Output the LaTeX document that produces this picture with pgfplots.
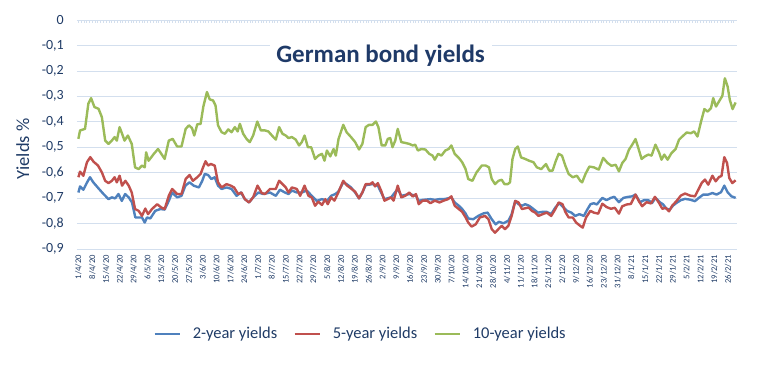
\documentclass[border=0pt]{standalone}
\usepackage{fontspec}
\setmainfont{Carlito}
\usepackage{pgfplots}
\pgfplotsset{compat=1.18}
\definecolor{cblue}{HTML}{4F81BD}
\definecolor{cred}{HTML}{C0504D}
\definecolor{cgreen}{HTML}{9BBB59}
\definecolor{gridc}{HTML}{D3DFEE}
\definecolor{txtc}{HTML}{1F3B66}
\definecolor{titlec}{HTML}{1F3A68}
\begin{document}
\begin{tikzpicture}
\path[use as bounding box] (-77pt,-121pt) rectangle (680pt,249pt);
\begin{axis}[
  scale only axis, width=660pt, height=229pt,
  xmin=-0.5, xmax=238.2, ymin=-0.9, ymax=0,
  axis line style={draw=none}, tick style={draw=none},
  ymajorgrids, grid style={gridc, line width=0.7pt},
  ytick={-0.9,-0.8,-0.7,-0.6,-0.5,-0.4,-0.3,-0.2,-0.1,0},
  /pgf/number format/assume math mode=true,
  /pgf/number format/fixed, /pgf/number format/precision=1, /pgf/number format/use comma,
  yticklabel style={font=\fontsize{14}{16}\selectfont, text=txtc, inner sep=0pt, xshift=-13pt},
  xtick={0,5,...,235},
  xticklabels={1/4/20,8/4/20,15/4/20,22/4/20,29/4/20,6/5/20,13/5/20,20/5/20,27/5/20,3/6/20,10/6/20,17/6/20,24/6/20,1/7/20,8/7/20,15/7/20,22/7/20,29/7/20,5/8/20,12/8/20,19/8/20,26/8/20,2/9/20,9/9/20,16/9/20,23/9/20,30/9/20,7/10/20,14/10/20,21/10/20,28/10/20,4/11/20,11/11/20,18/11/20,25/11/20,2/12/20,9/12/20,16/12/20,23/12/20,31/12/20,8/1/21,15/1/21,22/1/21,29/1/21,5/2/21,12/2/21,19/2/21,26/2/21},
  xticklabel style={yshift=-6pt, rotate=90, anchor=east, inner sep=0pt, font=\fontsize{8.6}{9}\selectfont, text=txtc},
  ylabel={Yields \%},
  ylabel style={at={(axis description cs:-0.082,0.437)}, anchor=center, font=\fontsize{18.5}{21}\selectfont, text=txtc},
  legend columns=3,
  legend style={at={(axis description cs:0.4295,-0.371)}, anchor=center, draw=none, fill=none, font=\fontsize{16.5}{20}\selectfont, text=txtc,
    /tikz/every odd column/.append style={column sep=10pt},
    /tikz/every even column/.append style={column sep=14pt}},
  legend image code/.code={\draw[#1, line width=2.5pt] (0pt,0pt) -- (25pt,0pt);},
]
\addplot[cblue, line width=2.4pt, line join=round] coordinates {
(0,-0.678) (0.6,-0.654) (1.8,-0.667) (3.0,-0.641) (4.2,-0.618) (5.4,-0.638) (7.3,-0.662) (9.1,-0.684) (10.9,-0.704) (12.1,-0.697) (13.3,-0.701) (14.5,-0.684) (15.7,-0.711) (16.9,-0.684) (18.2,-0.697) (19.4,-0.717) (20.6,-0.776) (21.8,-0.776) (23.0,-0.776) (24.0,-0.796) (24.8,-0.776) (26.0,-0.78) (27.8,-0.75) (29.6,-0.743) (31.2,-0.745) (32.7,-0.711) (33.9,-0.678) (35.7,-0.697) (37.3,-0.691) (38.7,-0.651) (40.2,-0.638) (41.7,-0.651) (43.6,-0.658) (44.8,-0.632)
(45.7,-0.605) (46.9,-0.609) (48.1,-0.625) (49.3,-0.618) (50.5,-0.651) (51.8,-0.664) (53.6,-0.658) (55.4,-0.664) (57.2,-0.691) (58.8,-0.678) (60.2,-0.704) (61.7,-0.717) (63.2,-0.697) (65.1,-0.678) (66.9,-0.684) (69.3,-0.678) (71.4,-0.691) (72.9,-0.667) (74.7,-0.678) (76.0,-0.684) (77.2,-0.67) (79.0,-0.678) (80.8,-0.678) (82.6,-0.67) (84.4,-0.691) (86.2,-0.711) (88.1,-0.704) (89.9,-0.711) (91.4,-0.691) (92.9,-0.684)
(94.0,-0.675) (95.8,-0.638) (97.0,-0.645) (98.6,-0.658) (100.1,-0.678) (101.5,-0.701) (102.7,-0.678) (103.9,-0.649) (106.4,-0.645) (108.3,-0.651) (109.5,-0.678) (110.7,-0.704) (113.1,-0.697) (115.5,-0.664) (116.8,-0.691) (119.7,-0.684) (122.1,-0.691) (123.1,-0.711) (124.5,-0.707) (127.3,-0.704) (128.9,-0.707) (130.6,-0.704) (132.1,-0.704) (133.7,-0.701) (134.9,-0.697) (136.1,-0.717) (137.6,-0.73) (138.8,-0.743) (140.0,-0.76) (141.0,-0.78)
(142.8,-0.783) (144.6,-0.77) (146.5,-0.76) (148.0,-0.757) (149.5,-0.783) (150.9,-0.803) (152.1,-0.793) (153.7,-0.799) (155.5,-0.789) (156.7,-0.763) (158.0,-0.711) (159.2,-0.724) (160.4,-0.73) (161.6,-0.724) (163.0,-0.73) (164.6,-0.743) (166.2,-0.757) (167.9,-0.754) (169.4,-0.754) (171.0,-0.763) (172.5,-0.737) (173.9,-0.72) (175.5,-0.737) (176.7,-0.75) (178.3,-0.757) (179.7,-0.77) (181.2,-0.763) (182.8,-0.77) (184.0,-0.746) (185.2,-0.724) (186.4,-0.72)
(187.5,-0.725) (189.5,-0.699) (191.0,-0.708) (192.6,-0.699) (193.8,-0.695) (195.5,-0.716) (197.1,-0.699) (198.9,-0.695) (200.3,-0.693) (201.5,-0.686) (203.1,-0.716) (204.6,-0.708) (206.1,-0.708) (207.5,-0.719) (208.7,-0.699) (210.3,-0.716) (211.5,-0.725) (212.7,-0.742) (213.9,-0.745) (215.1,-0.729) (216.3,-0.719) (217.9,-0.708) (219.4,-0.703) (221.2,-0.706) (223.0,-0.712) (224.4,-0.699) (226.0,-0.686) (227.8,-0.686) (229.3,-0.68) (230.8,-0.686) (232.4,-0.677) (233.6,-0.651) (234.8,-0.677) (236.2,-0.693) (237.7,-0.699)
};
\addlegendentry{2-year yields}
\addplot[cred, line width=2.4pt, line join=round] coordinates {
(0,-0.618) (0.6,-0.596) (1.8,-0.612) (3.1,-0.559) (4.3,-0.539) (5.5,-0.557) (7.1,-0.572) (8.5,-0.599) (9.7,-0.632) (10.9,-0.641) (12.1,-0.632) (13.1,-0.618) (13.9,-0.638) (14.9,-0.612) (15.8,-0.651) (17.0,-0.632) (18.2,-0.651) (19.3,-0.678) (20.5,-0.743) (21.8,-0.75) (23.0,-0.77) (24.2,-0.741) (25.2,-0.763) (26.6,-0.743) (28.5,-0.724) (30.0,-0.737) (31.2,-0.743) (32.7,-0.691) (33.9,-0.664) (35.7,-0.684) (37.3,-0.684) (38.8,-0.625) (40.2,-0.609) (41.4,-0.632) (43.0,-0.618) (44.2,-0.605) (45.1,-0.579)
(46.0,-0.555) (46.9,-0.572) (47.9,-0.566) (49.3,-0.572) (50.5,-0.638) (51.8,-0.658) (53.6,-0.645) (55.1,-0.651) (56.3,-0.658) (57.8,-0.684) (59.0,-0.678) (60.2,-0.704) (61.7,-0.717) (63.2,-0.697) (64.8,-0.651) (66.3,-0.68) (67.5,-0.684) (69.3,-0.664) (71.4,-0.664) (72.6,-0.632) (73.8,-0.645) (75.0,-0.658) (76.0,-0.678) (77.2,-0.658) (79.0,-0.664) (80.2,-0.691) (81.8,-0.651) (83.2,-0.691) (84.4,-0.697) (85.6,-0.73) (86.8,-0.714) (88.1,-0.727) (89.3,-0.704) (90.2,-0.724) (91.4,-0.697) (92.6,-0.71)
(94.0,-0.678) (95.8,-0.632) (97.0,-0.649) (98.6,-0.662) (100.1,-0.675) (101.5,-0.701) (102.7,-0.678) (103.9,-0.645) (105.5,-0.645) (106.4,-0.638) (107.3,-0.654) (108.3,-0.641) (109.5,-0.671) (110.7,-0.71) (111.9,-0.704) (113.1,-0.697) (114.0,-0.71) (115.5,-0.651) (116.8,-0.697) (118.2,-0.691) (119.7,-0.678) (120.9,-0.694) (122.1,-0.684) (123.1,-0.724) (124.5,-0.71) (126.1,-0.71) (127.3,-0.72) (128.9,-0.71) (130.6,-0.717) (132.1,-0.71) (133.7,-0.704) (134.9,-0.693) (136.1,-0.73) (137.6,-0.743) (138.8,-0.754) (140.0,-0.775)
(141.0,-0.796) (142.2,-0.812) (143.7,-0.803) (145.2,-0.776) (147.1,-0.77) (148.3,-0.783) (149.5,-0.822) (150.7,-0.836) (151.9,-0.822) (153.1,-0.809) (154.3,-0.822) (155.5,-0.809) (156.7,-0.77) (158.0,-0.711) (159.2,-0.717) (160.4,-0.743) (161.6,-0.74) (162.8,-0.737) (164.0,-0.75) (165.2,-0.757) (166.4,-0.77) (167.9,-0.763) (169.4,-0.757) (171.0,-0.77) (172.5,-0.743) (173.7,-0.717) (175.1,-0.724) (176.1,-0.754) (177.3,-0.776) (178.8,-0.776) (180.0,-0.796) (181.5,-0.809) (182.4,-0.816) (183.6,-0.776) (185.2,-0.75) (186.4,-0.757)
(188.0,-0.761) (189.5,-0.722) (191.0,-0.735) (192.6,-0.742) (194.0,-0.738) (195.5,-0.761) (196.7,-0.732) (198.3,-0.725) (199.8,-0.723) (201.5,-0.686) (202.7,-0.712) (203.9,-0.732) (205.5,-0.716) (207.1,-0.721) (208.5,-0.695) (210.0,-0.719) (211.2,-0.742) (212.4,-0.738) (213.6,-0.752) (214.8,-0.729) (216.3,-0.712) (217.9,-0.69) (219.4,-0.682) (221.2,-0.69) (223.0,-0.693) (224.2,-0.667) (225.4,-0.641) (226.6,-0.627) (227.8,-0.647) (229.3,-0.612) (230.5,-0.634) (231.7,-0.617) (232.6,-0.613) (233.6,-0.539) (234.6,-0.562) (235.4,-0.621) (236.5,-0.641) (237.7,-0.63)
};
\addlegendentry{5-year yields}
\addplot[cgreen, line width=2.4pt, line join=round] coordinates {
(0,-0.467) (0.6,-0.434) (2.4,-0.428) (3.6,-0.329) (4.6,-0.307) (5.8,-0.342) (7.3,-0.349) (8.5,-0.382) (9.7,-0.474) (10.9,-0.487) (12.1,-0.474) (13.1,-0.46) (13.9,-0.474) (14.9,-0.421) (15.8,-0.447) (16.7,-0.474) (17.9,-0.454) (19.3,-0.487) (20.5,-0.579) (21.8,-0.586) (23.0,-0.572) (24.0,-0.579) (24.5,-0.52) (25.4,-0.553) (27.3,-0.526) (28.8,-0.507) (30.0,-0.526) (31.2,-0.546) (32.7,-0.474) (34.1,-0.467) (35.7,-0.497) (37.3,-0.497) (38.8,-0.428) (40.0,-0.414) (41.1,-0.425) (41.9,-0.454) (43.0,-0.41) (44.2,-0.408) (45.2,-0.34) (46.5,-0.283) (47.5,-0.312)
(48.7,-0.316) (49.6,-0.336) (50.5,-0.414) (51.8,-0.441) (53.0,-0.447) (54.2,-0.43) (55.4,-0.441) (56.6,-0.421) (57.6,-0.438) (58.4,-0.408) (59.6,-0.447) (60.8,-0.467) (62.0,-0.48) (63.2,-0.454) (64.7,-0.399) (66.0,-0.434) (67.5,-0.434) (68.7,-0.438) (70.5,-0.46) (71.4,-0.47) (72.6,-0.421) (73.8,-0.447) (75.0,-0.454) (76.0,-0.464) (77.2,-0.46) (78.6,-0.47) (79.8,-0.493) (80.8,-0.48) (81.8,-0.454) (83.0,-0.5) (84.2,-0.5) (85.6,-0.546) (86.8,-0.533) (88.1,-0.526) (89.0,-0.553) (89.9,-0.513) (91.1,-0.536) (92.3,-0.507) (93.1,-0.533) (94.1,-0.467)
(95.8,-0.412) (97.0,-0.441) (98.6,-0.46) (100.1,-0.48) (101.5,-0.509) (102.7,-0.487) (103.9,-0.421) (105.1,-0.412) (106.4,-0.412) (107.6,-0.399) (108.5,-0.421) (109.7,-0.493) (111.0,-0.493) (111.9,-0.467) (112.8,-0.464) (113.6,-0.5) (114.6,-0.474) (115.5,-0.428) (116.8,-0.48) (118.2,-0.483) (119.7,-0.487) (120.9,-0.493) (121.8,-0.49) (122.8,-0.513) (124.0,-0.507) (125.5,-0.509) (126.9,-0.526) (128.1,-0.533) (128.9,-0.549) (130.1,-0.526) (131.3,-0.533) (132.7,-0.513) (133.9,-0.507) (134.9,-0.493) (136.1,-0.526) (137.6,-0.542) (138.8,-0.559) (140.0,-0.585)
(141.0,-0.625) (142.5,-0.632) (144.0,-0.599) (145.9,-0.572) (147.3,-0.572) (148.5,-0.579) (149.5,-0.625) (150.7,-0.645) (151.9,-0.632) (153.1,-0.628) (154.1,-0.645) (155.3,-0.645) (156.1,-0.638) (157.0,-0.546) (158.0,-0.507) (158.9,-0.497) (160.1,-0.54) (161.6,-0.546) (163.0,-0.553) (164.6,-0.559) (165.8,-0.579) (167.4,-0.586) (169.1,-0.566) (170.3,-0.592) (171.5,-0.592) (172.7,-0.553) (173.7,-0.526) (174.9,-0.533) (176.1,-0.572) (177.3,-0.605) (178.8,-0.618) (180.3,-0.612) (181.5,-0.632) (182.2,-0.638) (183.4,-0.605) (184.8,-0.576) (186.4,-0.579)
(188.2,-0.588) (189.8,-0.542) (191.4,-0.562) (192.8,-0.573) (194.3,-0.569) (195.5,-0.595) (196.7,-0.562) (197.9,-0.546) (199.1,-0.51) (200.3,-0.49) (201.5,-0.468) (202.5,-0.503) (203.7,-0.546) (204.9,-0.536) (206.1,-0.529) (207.3,-0.533) (208.7,-0.49) (210.0,-0.52) (210.9,-0.549) (211.9,-0.529) (213.1,-0.549) (214.5,-0.523) (216.0,-0.507) (217.2,-0.471) (218.4,-0.458) (220.0,-0.442) (221.5,-0.445) (222.7,-0.438) (223.9,-0.458) (225.2,-0.399) (226.4,-0.35) (227.6,-0.36) (228.8,-0.346) (229.6,-0.307) (230.6,-0.34) (231.7,-0.32) (232.9,-0.298) (233.8,-0.229) (234.8,-0.261) (235.6,-0.314) (236.6,-0.35) (237.7,-0.324)
};
\addlegendentry{10-year yields}
\node[fill=white, inner sep=0pt, minimum width=222pt, minimum height=27pt, font=\fontsize{25}{30}\selectfont\bfseries, text=titlec] at (axis description cs:0.46,0.845) {German bond yields};
\end{axis}
\begin{axis}[
  scale only axis, width=660pt, height=229pt,
  xmin=-0.5, xmax=238.2, ymin=-0.9, ymax=0,
  axis x line*=top, axis y line=none,
  xtick={0,1,...,237}, xticklabels={}, ytick=\empty,
  xtick align=inside, major tick length=2.5pt,
  xtick style={gridc, line width=0.5pt},
  x axis line style={gridc, line width=0.7pt},
]
\end{axis}
\end{tikzpicture}
\end{document}
